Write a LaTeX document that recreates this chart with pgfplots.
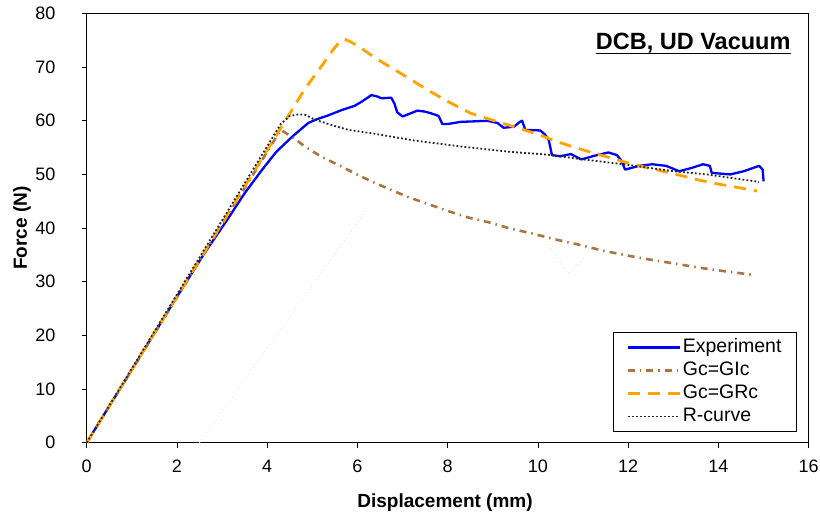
\documentclass[border=0pt]{standalone}
\usepackage{pgfplots}
\pgfplotsset{compat=1.18}
\usepackage{fontspec}
\setmainfont{Liberation Sans}
\definecolor{expblue}{RGB}{0,0,255}
\definecolor{gicbrown}{RGB}{168,118,64}
\definecolor{grcorange}{RGB}{255,163,0}
\begin{document}
\begin{tikzpicture}
\begin{axis}[
  scale only axis, width=722bp, height=429.2bp,
  xmin=0, xmax=16, ymin=0, ymax=80,
  xtick={0,2,...,16}, ytick={0,10,...,80},
  tick align=outside, xtick pos=left, ytick pos=left,
  major tick length=5bp,
  tick style={black, line width=0.9bp},
  axis line style={black, line width=1bp},
  /pgf/number format/assume math mode=true,
  ticklabel style={font=\fontsize{18bp}{20bp}\selectfont, inner sep=0pt},
  xticklabel style={anchor=base, yshift=-25bp},
  yticklabel style={anchor=east, xshift=-26bp},
  xlabel={Displacement (mm)}, ylabel={Force (N)},
  label style={font=\fontsize{19bp}{22bp}\selectfont\bfseries, inner sep=0pt},
  xlabel style={at={(axis description cs:0.4963,-0.1395)}, anchor=center},
  ylabel style={at={(axis description cs:-0.0896,0.5)}, anchor=center},
  legend style={at={(rel axis cs:0.983,0.025)}, anchor=south east,
    draw=black, line width=0.9bp, inner xsep=13bp, inner ysep=4.5bp,
    font=\fontsize{19.5bp}{21bp}\selectfont,
    nodes={inner sep=1.5bp, text height=14bp, text depth=4bp},
    row sep=2bp},
  legend cell align=left,
  legend image code/.code={\draw[#1] (0bp,0bp) -- (52bp,0bp);},
  every axis plot/.append style={line join=round},
]
\coordinate (SW) at (rel axis cs:0,0);
\coordinate (NE) at (rel axis cs:1,1);

\addplot[forget plot, black!8, line width=1bp, dash pattern=on 1bp off 3bp] coordinates {(2.5,0) (6.25,44)};
\addplot[forget plot, black!8, line width=1bp, dash pattern=on 1bp off 3bp] coordinates {(10.2,37.6) (10.66,31.5) (11.1,35)};

\addplot[expblue, line width=2.3bp] coordinates {
(0,0) (1.0,13.6) (2.0,27.2) (2.6,35.2) (3.15,42.0) (3.5,46.5) (3.88,50.8) (4.2,54.2) (4.55,57.0) (4.91,59.6) (5.1,60.3) (5.35,61.0) (5.65,62.0) (5.94,62.8) (6.1,63.6) (6.31,64.8) (6.45,64.5) (6.53,64.2) (6.75,64.3) (6.82,63.2) (6.88,61.6) (7.0,60.8) (7.15,61.3) (7.33,61.9) (7.5,61.7) (7.63,61.4) (7.8,60.9) (7.88,59.4) (8.0,59.4) (8.29,59.8) (8.6,59.9) (8.88,60.0) (9.1,59.6) (9.24,58.7) (9.47,58.9) (9.6,59.8) (9.65,60.0) (9.72,58.3) (10.05,58.2) (10.15,57.5) (10.24,56.4) (10.31,53.6) (10.49,53.4) (10.73,53.8) (10.96,52.8) (11.26,53.5) (11.56,54.1) (11.75,53.6) (11.85,52.6) (11.93,50.9) (12.24,51.6) (12.53,51.9) (12.84,51.6) (13.13,50.6) (13.4,51.2) (13.66,51.9) (13.81,51.6) (13.85,50.3) (14.26,50.0) (14.56,50.6) (14.9,51.6) (14.98,50.9) (15.0,48.7)};
\addlegendentry{Experiment}

\addplot[gicbrown, line width=2.6bp, dash pattern=on 7bp off 5bp on 1.5bp off 5bp] coordinates {
(0,0) (4.3,58.3) (4.55,57.0) (4.84,55.2) (5.2,53.3) (5.57,51.8) (5.94,50.2) (6.31,48.7) (6.75,47.1) (7.15,45.7) (7.56,44.5) (8.0,43.2) (8.44,42.0) (8.95,41.0) (9.39,39.9) (9.87,39.0) (10.38,37.9) (10.86,37.0) (11.44,35.8) (11.97,34.9) (12.5,34.1) (13.02,33.4) (13.59,32.6) (14.19,31.9) (14.75,31.3)};
\addlegendentry{Gc=GIc}

\addplot[grcorange, line width=2.8bp, dash pattern=on 12bp off 8bp] coordinates {
(0,0) (4.84,66.0) (5.17,69.8) (5.43,72.9) (5.6,74.7) (5.72,75.2) (5.85,74.7) (6.02,73.9) (6.31,72.2) (6.53,71.0) (6.97,68.8) (7.56,65.7) (8.0,63.6) (8.51,61.4) (9.0,60.1) (9.5,58.8) (10.0,57.5) (10.42,56.1) (10.8,55.1) (11.18,54.1) (11.56,53.2) (11.97,52.2) (12.4,51.3) (12.76,50.6) (13.17,49.8) (13.59,48.9) (14.0,48.2) (14.41,47.6) (14.86,46.9)};
\addlegendentry{Gc=GRc}

\addplot[black!85, line width=1.8bp, dash pattern=on 1.8bp off 2.2bp] coordinates {
(0,0) (4.3,59.4) (4.5,60.9) (4.7,61.2) (4.85,61.1) (5.06,60.2) (5.43,59.2) (5.8,58.3) (6.3,57.7) (7.2,56.4) (8.3,55.2) (9.4,54.2) (10.2,53.7) (11.0,52.8) (11.9,51.9) (13.0,50.6) (13.75,50.0) (14.9,48.6)};
\addlegendentry{R-curve}

\node[anchor=base east, inner sep=0pt, font=\fontsize{23.5bp}{26bp}\selectfont\bfseries] (T) at (axis cs:15.6,73.2) {DCB, UD Vacuum};
\end{axis}
\draw[line width=1.6bp] ([yshift=-3.5bp]T.base west) -- ([yshift=-3.5bp]T.base east);
\pgfresetboundingbox
\path ([shift={(-86.7bp,-76.3bp)}]SW) rectangle ([shift={(11.3bp,13.5bp)}]NE);
\end{tikzpicture}
\end{document}
